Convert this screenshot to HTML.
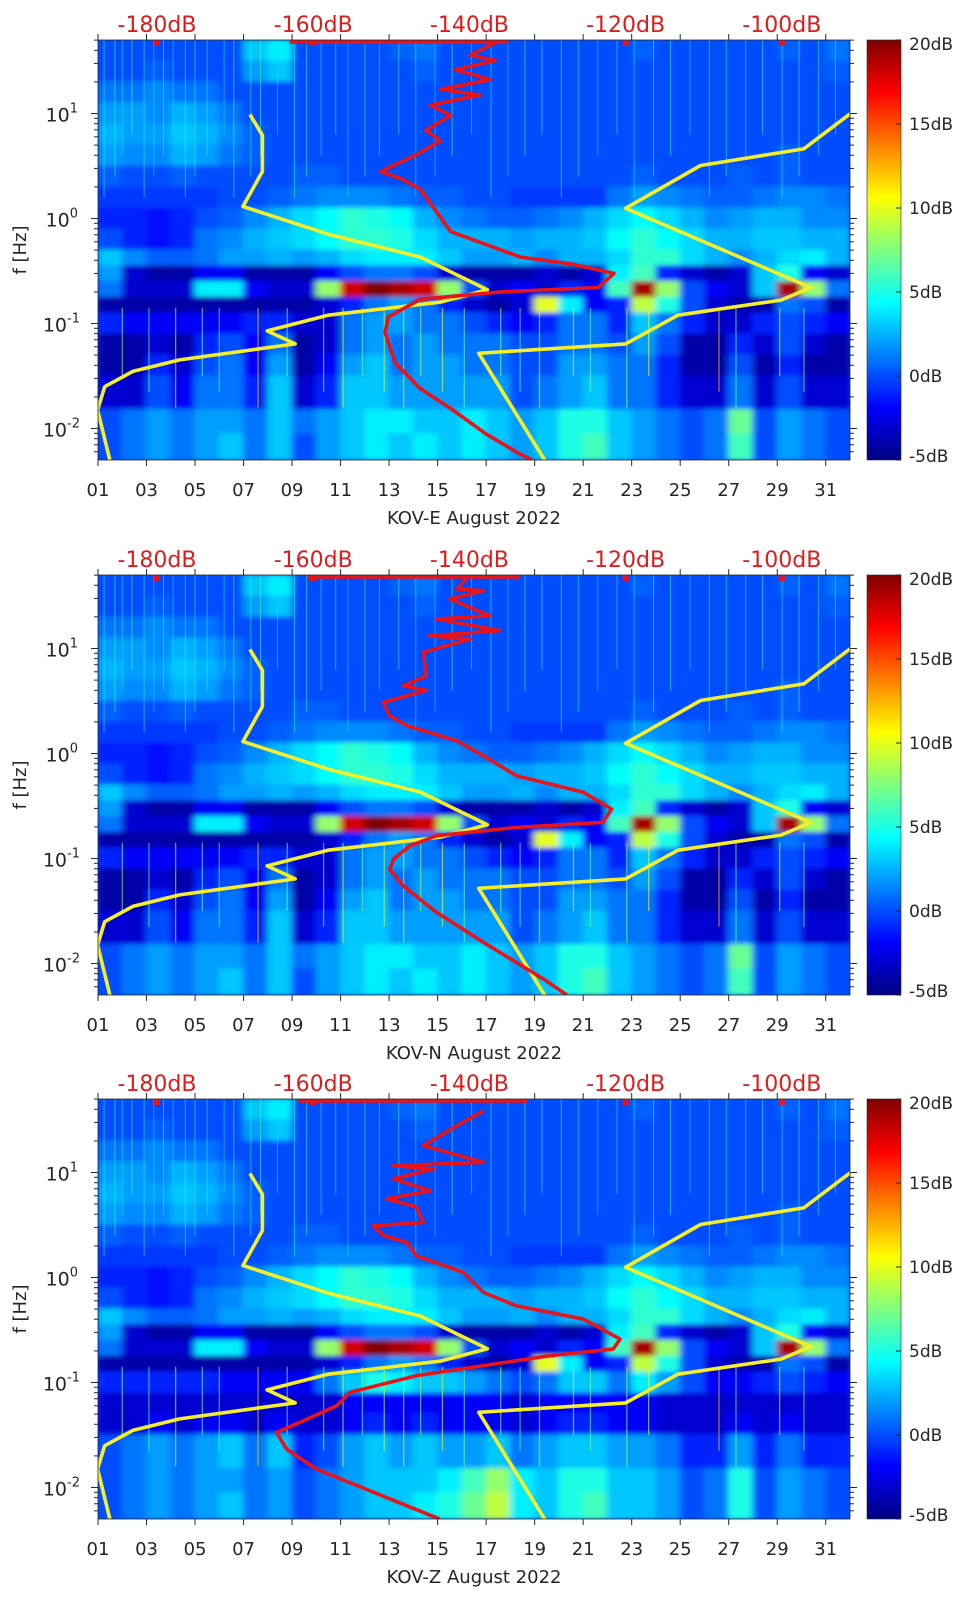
<!DOCTYPE html>
<html><head><meta charset="utf-8">
<style>
html,body{margin:0;padding:0;background:#fff;}
svg{display:block;font-family:"DejaVu Sans","Liberation Sans",sans-serif;}
</style></head>
<body>
<svg id="chart" xmlns="http://www.w3.org/2000/svg" width="962" height="1599">
<defs>
<filter id="blur" x="-5%" y="-5%" width="110%" height="110%"><feGaussianBlur stdDeviation="3.5 2.5" edgeMode="duplicate"/></filter>
<linearGradient id="jet" x1="0" y1="1" x2="0" y2="0">
<stop offset="0" stop-color="#000080"/><stop offset="0.125" stop-color="#0000ff"/><stop offset="0.375" stop-color="#00ffff"/><stop offset="0.625" stop-color="#ffff00"/><stop offset="0.875" stop-color="#ff0000"/><stop offset="1" stop-color="#800000"/>
</linearGradient>
</defs>
</svg>
<script>
// ---- data ----
const panelNames = ["KOV-E","KOV-N","KOV-Z"];
const dayTicks = [1,3,5,7,9,11,13,15,17,19,21,23,25,27,29,31];
const dayTickLabels = ["01","03","05","07","09","11","13","15","17","19","21","23","25","27","29","31"];
const dbTicks = [-180,-160,-140,-120,-100];
const dbTickLabels = ["-180dB","-160dB","-140dB","-120dB","-100dB"];
const cbTicks = [20,15,10,5,0,-5];
const cbTickLabels = ["20dB","15dB","10dB","5dB","0dB","-5dB"];
const fTicksExp = [1,0,-1,-2];
const topDots = [-180,-160,-120,-100];

// heatmap row edges (log10 Hz) and cell values (dB); columns = days 1..31
const rowEdges = [1.7,1.5,1.3,1.1,0.9,0.7,0.5,0.3,0.1,-0.1,-0.3,-0.45,-0.6,-0.75,-0.9,-1.1,-1.3,-1.5,-1.82,-2.05,-2.3];
const specTop = [
[0,0,0,0,0,0,3,4,0,0,0,0,0.5,1,0,0,0,0,0,0,0,0,0.5,0,0,0,0,0,0.5,0,1],
[0,0,0.5,0,0,0,2,3,0,0,0,0,0,0.5,0,0,0,0,0,0,0,0,0,0,0,0,0,0,0,0,0.5],
[1,1,1.5,1,1,0,0,0,0,0,0,0,0,0,0,0,0,0,0,0,0,0,0,0,0,0,0,0,0,0,0],
[2,2,1.5,2.5,2,1,0,0,0,0,0,0,0,0,0,0,0,0,0,0,0,0,0,0,0,0,0,0,0,0,0],
[2.5,2,2,3,2.5,1.5,0.5,0,0,0,0,0,0,0,0,0,0,0,0,0,0,0,0,0,0,0,0,0,0,0,0],
[2,1.5,1.5,2.5,2,1,0.5,0,0,0,0,0,0,0,0,0,0,0,0,0,0,0,0,0,0,0,0,0,0.5,0,0],
[0.5,0,0,0.5,0,0,0,0,0.5,0.5,0,0,0,0,0,0,0,0,0,0,0,0,0.5,0,0,0,0.5,0,0.5,0,0],
[-0.5,-0.5,-0.5,-0.5,-0.5,0,0,0.5,1,1.5,1.5,1.5,1,0.5,0.5,0,0,-0.5,-0.5,-0.5,-0.5,1,2,1.5,1,0.5,0.5,1,1.5,1.5,1],
[-1,-1,-1.5,-1,0,0.5,1.5,2.5,3.5,4.5,5.5,5,4.5,2.5,1.5,1,0.5,0.5,1,1.5,2.5,3.5,4.5,3.5,2.5,1.5,2,2.5,2.5,1.5,1.5],
[0,-1,-1.5,-1,1,1.5,2.5,3,3.5,4.5,5.5,5.5,5,3.5,2.5,2.5,2.5,2,2.5,2.5,3,4.5,5.5,4.5,3.5,2.5,2.5,3,3,2.5,2.5],
[3,1.5,0.5,0.5,1,2,2,2.5,2,2.5,3.5,4,4,4,3,2,2,2.5,1.5,2.5,2.5,3.5,5.5,5.5,3.5,2.5,1.5,2.5,3.5,4,2.5],
[2,-3,-4,-4,-2,-2,-4,-4,-4,-2,0,1,1,0,-3,-4,-4,-4,-3,-4,-3,4,6,-1,-3,-4,-3,3,5,-2,-3],
[1,-3,-3,-3,4,4,-2,-3,-3,8,18,20,19,18,8,0,-3,-2,-3,-1,-2,6,19,8,0,-2,-3,3,19,8,1],
[-4,-4,-4,-4,-4,-4,-4,-4,-4,-3,-1,1,2,1,-1,-3,-4,-3,10,4,-2,-1,9,5,0,-3,-4,-4,1,0,-4],
[-1,-2,-2,-2,-2,-2,-1,-1,-3,-3,1,2,2,1,1,0,-1,-2,-1,1,1,-1,3,1,-1,-3,-3,-1,0,-1,-2]
];
const specLowEN = [
[-4,-4,-3,-4,-1,0,-2,1,-4,-3,1,2,1,2,1,1,1,0,0,1,1,0,2,0,-4,-4,-1,-3,0,-3,-4],
[-4,-4,-1,-3,0,1,-2,2,-4,-2,2,3,1,2,2,1,1,0,0,2,2,1,1,-1,-4,-4,0,-4,-1,-4,-4],
[-3,-3,0,-2,1,1,-1,3,-3,-1,3,3,2,2,2,2,2,0,1,2,3,1,1,-1,-3,-3,1,-3,0,-3,-3],
[0,1,2,1,2,2,1,3,1,2,3,4,4,3,3,4,3,2,3,5,5,3,2,1,0,1,7,0,2,1,0],
[0,1,2,1,2,3,1,3,0,2,3,4,3,4,3,4,3,2,3,5,6,3,2,1,0,1,6,0,2,1,0]
];
const specLowZ = [
[-1,-1,-1,-1,-1,-2,-2,-2,-2,1,3,5,4,3,3,2,1,0,1,3,3,1,4,2,0,-2,-2,-1,0,-1,-2],
[-3,-3,-3,-3,-3,-3,-3,-3,-3,-3,-2,-2,-2,-2,-2,-2,-2,-3,-2,-2,-2,-2,-2,-3,-3,-3,-3,-3,-3,-3,-3],
[-3,-3,-2,-3,-2,-2,-3,-2,-3,-3,-2,-1,-2,-1,-2,-2,-2,-3,-2,-1,-1,-2,-2,-3,-3,-3,-2,-3,-2,-3,-3],
[0,1,2,1,2,3,1,3,-1,0,2,3,2,3,2,2,3,1,2,3,3,2,2,1,-1,-1,2,-1,1,-1,-1],
[0,1,2,1,2,2,1,2,0,1,2,3,3,3,4,6,8,4,3,5,5,3,3,2,0,1,5,0,2,1,0],
[0,1,2,1,2,3,1,2,0,1,2,3,3,4,5,7,9,4,3,5,6,3,3,2,0,1,5,0,2,1,0]
];
// thin vertical streaks (day, dB)
const streakDays = [1.25,1.7,2.0,2.4,2.9,3.3,3.7,4.1,4.6,5.0,5.5,6.2,6.6,7.3,7.7,8.4,9.1,9.6,10.2,10.8,11.3,12.0,12.6,13.4,14.1,14.9,15.6,16.4,17.2,17.9,18.6,19.3,20.1,20.8,21.6,22.4,23.1,23.9,24.6,25.4,26.2,26.9,27.7,28.4,29.2,29.9,30.7,31.4];
const streakVals = [5,6,4,7,5,4,6,4,6,5,5,4,7,5,6,4,5,6,5,6,4,5,5,6,5,4,6,5,5,4,6,5,6,5,4,6,5,7,5,4,6,5,5,6,5,6,4,5];
const lowStreakDays = [2.0,3.1,4.2,5.3,6.0,7.6,8.8,10.3,11.1,11.9,12.8,13.6,14.3,15.2,16.1,17.6,18.4,19.2,20.6,21.3,22.8,23.7,26.6,27.3,29.1,30.1];
const lowStreakVals = [8,6,10,7,6,12,7,8,10,7,9,11,8,10,7,8,6,9,11,7,8,10,12,7,10,6];

// noise model curves (yellow)
const ylwADb = [-168.1,-166.5,-166.5,-169.0,-157.8,-146.3,-137.7,-143.7,-158.1,-165.9,-162.3,-177.1,-183.1,-186.7,-187.6,-186.0];
const ylwAF  = [9.8,6.2,2.8,1.3,0.70,0.43,0.21,0.16,0.12,0.085,0.064,0.045,0.035,0.025,0.015,0.0049];
const ylwBDb = [-130.3,-138.8,-120.0,-113.3,-100.1,-96.3,-120.0,-110.4,-97.2,-91.2];
const ylwBF  = [0.0049,0.052,0.064,0.12,0.167,0.22,1.25,3.2,4.6,10];

// station median PSD curves (red)
const redEDb = [-136.0,-139.9,-136.7,-141.8,-137.3,-143.7,-138.6,-145.0,-142.4,-145.6,-143.7,-146.9,-151.4,-148.8,-146.3,-142.4,-133.5,-127.1,-121.5,-123.5,-136.0,-146.3,-150.4,-150.8,-149.5,-146.3,-142.4,-137.9,-133.7,-132.0];
const redEF  = [50,36,32,26,21,17,15,12,9.6,6.9,5.5,4.0,2.8,2.4,1.9,0.75,0.43,0.37,0.30,0.22,0.20,0.17,0.115,0.082,0.042,0.024,0.0155,0.0089,0.0058,0.005];
const redNDb = [-140.4,-141.6,-138.2,-142.5,-137.4,-144.2,-136.1,-145.1,-139.9,-145.9,-145.5,-148.5,-145.5,-151.0,-150.2,-148.0,-141.6,-138.2,-134.0,-125.4,-121.8,-122.9,-134.0,-144.2,-147.6,-149.7,-150.2,-148.5,-144.2,-138.2,-130.5,-127.5];
const redNF  = [45.8,36.8,35.5,29.6,20.5,19.1,14.8,13.2,12.3,9.2,5.5,4.4,4.0,3.07,2.29,1.84,1.32,0.95,0.615,0.427,0.296,0.221,0.198,0.165,0.132,0.099,0.079,0.055,0.0307,0.0159,0.0071,0.005];
const redZDb = [-138.2,-141.6,-145.9,-138.2,-149.7,-144.6,-149.7,-145.0,-150.6,-146.8,-145.9,-152.3,-151.0,-148.0,-146.8,-140.8,-138.2,-134.0,-125.4,-120.7,-121.6,-129.7,-138.2,-146.8,-155.3,-157.0,-161.7,-164.7,-163.4,-159.6,-150.2,-143.8];
const redZF  = [38.7,27.9,18.0,12.5,11.6,10.8,8.7,6.7,5.6,4.7,3.35,3.1,2.5,2.16,1.61,1.12,0.72,0.538,0.402,0.259,0.208,0.180,0.145,0.116,0.0805,0.060,0.0417,0.0335,0.0232,0.0150,0.0078,0.005];
const redTopDb = [[-163,-135],[-160.7,-133.5],[-161.9,-132.5]];

// ---- layout ----
const NS="http://www.w3.org/2000/svg";
const svg=document.getElementById('chart');
const X0=98, X1=850, H=420, tops=[40,575,1099];
const LOGTOP=1.7, LOGBOT=-2.3;
const xDay=d=>X0+(d-1)*(X1-X0)/31;
const xDb=v=>157+(v+180)*7.81;
const yLog=(top,l)=>top+(LOGTOP-l)/(LOGTOP-LOGBOT)*H;
const yF=(top,f)=>yLog(top,Math.log10(f));
function jet(v){const t=Math.max(0,Math.min(1,(v+5)/25));
 const c=k=>Math.round(255*Math.max(0,Math.min(1,1.5-Math.abs(4*t-k))));
 return `rgb(${c(3)},${c(2)},${c(1)})`;}
function el(tag,attrs,parent){const e=document.createElementNS(NS,tag);for(const k in attrs)e.setAttribute(k,attrs[k]);(parent||svg).appendChild(e);return e;}

const redDb=[redEDb,redNDb,redZDb], redF=[redEF,redNF,redZF];

for(let p=0;p<3;p++){
 const top=tops[p], bot=top+H;
 const g=el('g',{});
 
 
 el('clipPath',{id:'clip'+p},g); el('rect',{x:X0,y:top,width:X1-X0,height:H},g.lastChild);
 const plot=el('g',{'clip-path':`url(#clip${p})`},g);
 
 
 el('rect',{x:X0,y:top,width:X1-X0,height:H,fill:'#004cff'},plot);
 const hm=el('g',{filter:'url(#blur)'},plot);
 
 
 const rows=(p===2)?specTop.slice(0,14).concat(specLowZ):specTop.concat(specLowEN);
 rows.forEach((row,r)=>{
  const yA=yLog(top,rowEdges[r]), yB=yLog(top,rowEdges[r+1]);
  row.forEach((v,i)=>{
   const xa=xDay(i+1), xb=xDay(i+2);
   const c=el('rect',{x:xa-0.5,y:yA-0.5,width:xb-xa+1,height:yB-yA+1,fill:jet(v)},hm);
   
   
  });
 });
 streakDays.forEach((d,i)=>{
  const s=el('line',{x1:xDay(d),x2:xDay(d),y1:top,y2:yLog(top,0.2+(i%4)*0.2),stroke:jet(streakVals[i]),'stroke-width':1,opacity:0.55},plot);
  
  
 });
 lowStreakDays.forEach((d,i)=>{
  const s=el('line',{x1:xDay(d),x2:xDay(d),y1:yLog(top,-0.85),y2:yLog(top,-1.5-(i%3)*0.15),stroke:jet(lowStreakVals[i]),'stroke-width':1.3,opacity:0.6},plot);
  
  
 });
 [[ylwADb,ylwAF],[ylwBDb,ylwBF]].forEach(([ds,fs],k)=>{
  const pts=ds.map((v,i)=>xDb(v).toFixed(1)+','+yF(top,fs[i]).toFixed(1)).join(' ');
  const pl=el('polyline',{points:pts,fill:'none',stroke:'#f5ee2a','stroke-width':3.6,'stroke-linejoin':'round'},plot);
  
  
 });
 const rp=redDb[p].map((v,i)=>xDb(v).toFixed(1)+','+yF(top,redF[p][i]).toFixed(1)).join(' ');
 const rl=el('polyline',{points:rp,fill:'none',stroke:'#e8141a','stroke-width':3.6,'stroke-linejoin':'round'},plot);
 
 
 const rt=el('line',{x1:xDb(redTopDb[p][0]),x2:xDb(redTopDb[p][1]),y1:top+2,y2:top+2,stroke:'#e8141a','stroke-width':3.5},plot);
 
 
 topDots.forEach(v=>{
  const d=el('rect',{x:xDb(v)-3,y:top,width:6,height:6,fill:'#e8141a'},plot);
  
  
 });
 el('rect',{x:X0,y:top,width:X1-X0,height:H,fill:'none',stroke:'#262626','stroke-width':0.8},g);
 dayTicks.forEach((d,i)=>{
  const x=xDay(d);
  el('line',{x1:x,x2:x,y1:bot,y2:bot+6,stroke:'#262626','stroke-width':1},g);
  el('line',{x1:x,x2:x,y1:top,y2:top-6,stroke:'#262626','stroke-width':1},g);
  const t=el('text',{x:x,y:bot+36,'font-size':18,fill:'#262626','text-anchor':'middle'},g);
  t.textContent=dayTickLabels[i];
  
  
 });
 const xt=el('text',{x:474,y:bot+64,'font-size':18,fill:'#262626','text-anchor':'middle'},g);
 xt.textContent=panelNames[p]+' August 2022';
 
 
 dbTicks.forEach((v,i)=>{
  const t=el('text',{x:xDb(v),y:top-8,'font-size':22,fill:'#e01b1b','text-anchor':'middle'},g);
  t.textContent=dbTickLabels[i];
  
  
 });
 for(let e=-3;e<=1;e++){
  for(let m=1;m<10;m++){
   const l=e+Math.log10(m); if(l>LOGTOP||l<LOGBOT) continue;
   const y=yLog(top,l), len=m===1?7:4;
   el('line',{x1:X0-len,x2:X0,y1:y,y2:y,stroke:'#262626','stroke-width':1},g);
   el('line',{x1:X1,x2:X1+len,y1:y,y2:y,stroke:'#262626','stroke-width':1},g);
  }
 }
 fTicksExp.forEach(e=>{
  const y=yLog(top,e);
  const t=el('text',{x:e<0?80:78,y:y+8,'font-size':19,fill:'#262626','text-anchor':'end'},g);
  
  
  const a=el('tspan',{},t); a.textContent='10';
  const b=el('tspan',{dy:-9,'font-size':13},t); b.textContent=String(e);
 });
 const yt=el('text',{x:0,y:0,'font-size':18,fill:'#262626','text-anchor':'middle',transform:`translate(26,${top+H/2}) rotate(-90)`},g);
 yt.textContent='f [Hz]';
 
 
 const cb=el('rect',{x:867,y:top,width:34,height:H,fill:'url(#jet)',stroke:'#262626','stroke-width':0.6},g);
 
 
 cbTicks.forEach((v,i)=>{
  const y=top+(20-v)/25*H;
  el('line',{x1:896,x2:901,y1:y,y2:y,stroke:'#262626','stroke-width':1},g);
  const t=el('text',{x:909,y:y+6+(i===0?4:0)-(i===5?4:0),'font-size':17,fill:'#262626'},g);
  t.textContent=cbTickLabels[i];
  
  
 });
}
</script>
</body></html>
